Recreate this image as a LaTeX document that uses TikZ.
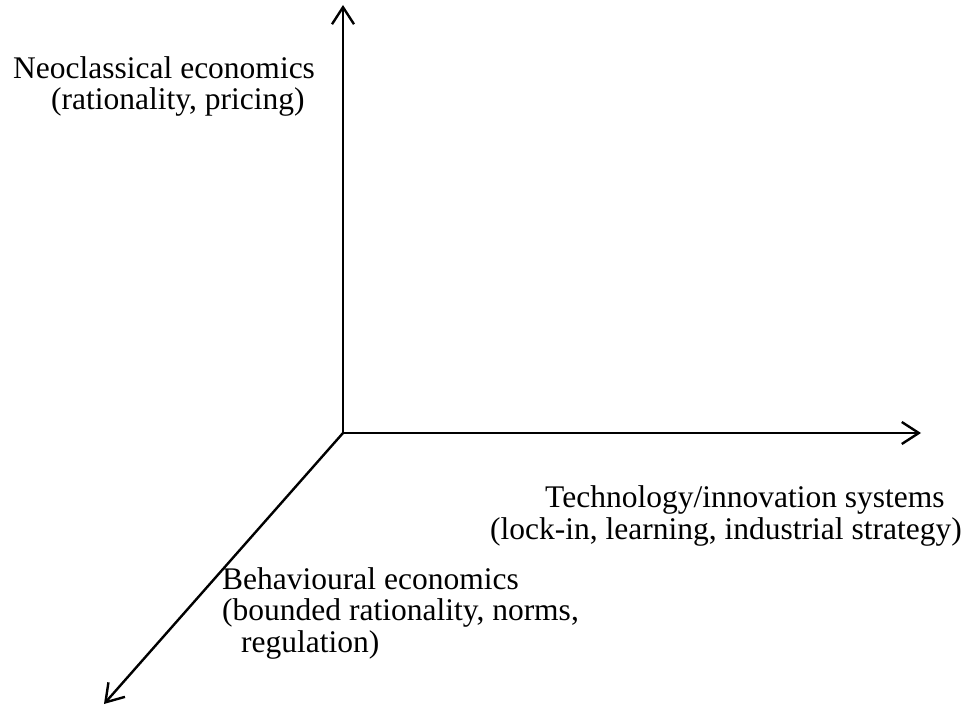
\documentclass[tikz,border=0pt]{standalone}
\usepackage{fontspec}
\setmainfont{Liberation Serif}
\usetikzlibrary{arrows.meta}
\begin{document}
\begin{tikzpicture}[x=1pt,y=-1pt,
  axis/.style={line width=2.4pt,-{Straight Barb[length=17pt,width=22pt,line width=2.4pt]}},
  lbl/.style={anchor=base west,inner sep=0pt,align=left,
    font=\fontsize{31.5}{31.5}\selectfont}]
\useasboundingbox (0,0) rectangle (967,708);
\coordinate (o) at (343,433);
\coordinate (up) at (343,5);
\coordinate (rt) at (921,433);
\coordinate (dl) at (104,704);
\draw[axis] (o) -- (up);
\draw[axis] (o) -- (rt);
\draw[axis] (o) -- (dl);
% multi-line nodes: the base anchor sits on the last line
\node[lbl] (neo) at (13,110) {Neoclassical economics\\\hspace*{38pt}(rationality, pricing)};
\node[lbl] (tech) at (490,539) {\hspace*{55pt}Technology/innovation systems\\(lock-in, learning, industrial strategy)};
\node[lbl] (beh) at (222,652) {Behavioural economics\\(bounded rationality, norms,\\\hspace*{19pt}regulation)};
\end{tikzpicture}
\end{document}
